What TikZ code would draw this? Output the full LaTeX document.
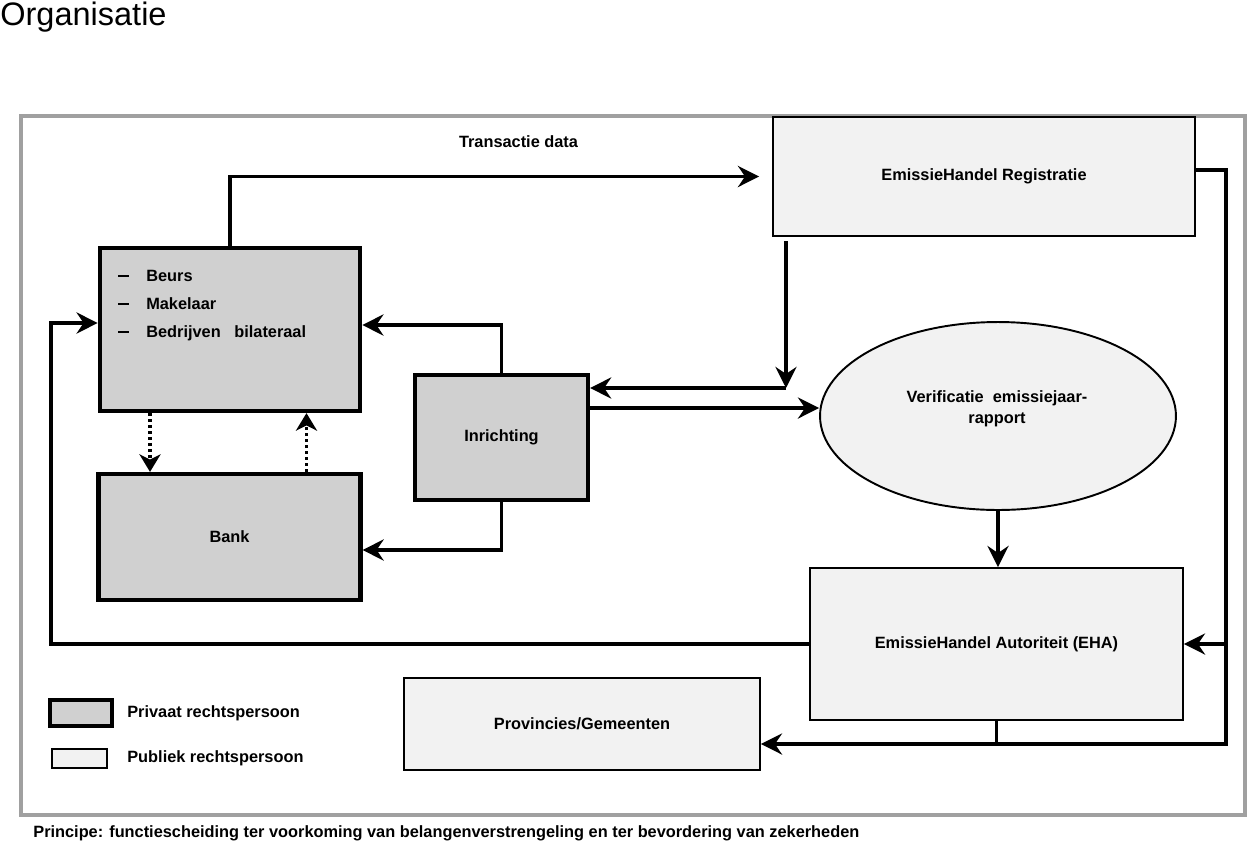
\documentclass[tikz,border=0pt]{standalone}
\usepackage{fontspec}
\setmainfont{Liberation Sans}
\usetikzlibrary{arrows.meta, shapes.geometric}
\definecolor{privgray}{HTML}{D0D0D0}
\definecolor{publgray}{HTML}{F2F2F2}
\definecolor{framegray}{HTML}{A0A0A0}

\begin{document}
\begin{tikzpicture}[x=0.02cm, y=-0.02cm,
        txt/.style={font=\fontsize{9.3}{12}\selectfont\bfseries, align=center},
        privbox/.style={rectangle, draw=black, line width=2.4pt, fill=privgray, txt},
        publbox/.style={rectangle, draw=black, line width=1.1pt, fill=publgray, txt},
        arr/.style={-{Stealth[length=12pt, width=12pt, inset=4pt]}, line width=2pt},
        link/.style={line width=2pt},
        dotarr/.style={-{Stealth[length=10pt, width=12pt, inset=3pt]}, line width=2pt, dash pattern=on 1.7pt off 1.7pt}]
      \useasboundingbox (0,0) rectangle (1249,843);

      % Kader en titel
      \draw[framegray, line width=1.8pt] (21,116) rectangle (1245,815);
      \node[anchor=base west, inner sep=0pt, font=\fontsize{18.5}{22}\selectfont] (titel) at (0,25) {Organisatie};

      % Private partijen
      \node[privbox, minimum width=5.21cm, minimum height=3.26cm] (beurs) at (230,329.5) {};
      \node[txt, anchor=north west, align=left, inner sep=0pt, font=\fontsize{9.3}{15.9}\selectfont\bfseries] (beurslijst) at (118,270)
        {\makebox[15.9pt][l]{\rule[2.6pt]{6.3pt}{1.3pt}}Beurs\\ \makebox[15.9pt][l]{\rule[2.6pt]{6.3pt}{1.3pt}}Makelaar\\ \makebox[15.9pt][l]{\rule[2.6pt]{6.3pt}{1.3pt}}Bedrijven\ \ \ bilateraal};
      \node[privbox, minimum width=5.24cm, minimum height=2.52cm] (bank) at (229.5,537) {Bank};
      \node[privbox, minimum width=3.46cm, minimum height=2.5cm] (inrichting) at (501.5,437.5) {Inrichting};

      % Publieke partijen
      \node[publbox, minimum width=8.44cm, minimum height=2.38cm] (registratie) at (984,176.5) {EmissieHandel Registratie};
      \node[publbox, ellipse, inner sep=0pt, minimum width=7.12cm, minimum height=3.76cm] (verificatie) at (998,416) {};
      \node[txt] (verificatietxt) at (997,408.5) {Verificatie\ \ emissiejaar-\\rapport};
      \node[publbox, minimum width=7.46cm, minimum height=3.04cm] (eha) at (996.5,644) {EmissieHandel Autoriteit (EHA)};
      \node[publbox, minimum width=7.12cm, minimum height=1.84cm] (provincies) at (582,724) {Provincies/Gemeenten};

      % Stromen
      \draw[arr, shorten >=0.26cm] (beurs.north) |- (registratie.west);
      \node[txt] (transactie) at (518.5,141.5) {Transactie data};

      \coordinate (regdown) at (786,388);
      \draw[arr] (regdown |- 0,241) -- (regdown);
      \draw[arr] (regdown) -- (regdown -| inrichting.east);
      \coordinate (inruit) at ([yshift=0.59cm]inrichting.east);
      \draw[arr] (inruit) -- (inruit -| verificatie.west);

      \draw[arr] (inrichting.north) |- ([yshift=0.09cm]beurs.east);
      \draw[arr] (inrichting.south) |- ([yshift=-0.26cm]bank.east);

      \draw[dotarr] ([xshift=-1.6cm]beurs.south) -- ([xshift=-1.6cm]beurs.south |- bank.north);
      \draw[dotarr] ([xshift=1.54cm]bank.north) -- ([xshift=1.54cm]bank.north |- beurs.south);

      \draw[arr] (verificatie.south) -- (verificatie.south |- eha.north);

      \coordinate (leftrail) at (51,0);
      \draw[arr] (eha.west) -- (eha.west -| leftrail) |- ([yshift=0.13cm]beurs.west);

      \coordinate (rbot) at (1226,744);
      \draw[arr] ([yshift=0.13cm]registratie.east) -| (rbot) -- (rbot -| provincies.east);
      \draw[arr] (rbot |- eha.east) -- (eha.east);
      \draw[link] (eha.south) -- (eha.south |- rbot);

      % Legenda
      \node[privbox, minimum width=1.24cm, minimum height=0.52cm] (legprivaat) at (81,713) {};
      \node[publbox, minimum width=1.1cm, minimum height=0.38cm] (legpubliek) at (79.5,758.5) {};
      \node[txt, anchor=base west, inner sep=0pt] (legprivtxt) at (127,717) {Privaat rechtspersoon};
      \node[txt, anchor=base west, inner sep=0pt] (legpubtxt) at (127,762) {Publiek rechtspersoon};

      % Principe
      \node[txt, anchor=base west, inner sep=0pt] (principe) at (33,837) {Principe: functiescheiding ter voorkoming van belangenverstrengeling en ter bevordering van zekerheden};
    \end{tikzpicture}
\end{document}
